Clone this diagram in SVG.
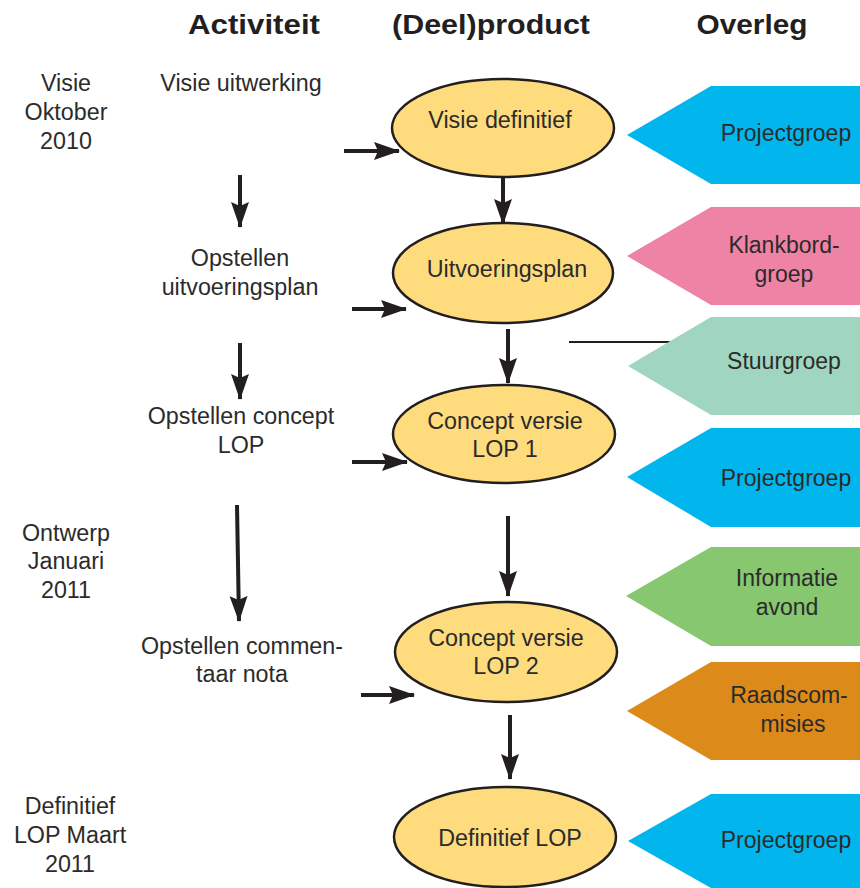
<svg xmlns="http://www.w3.org/2000/svg" width="860" height="888" viewBox="0 0 860 888">
<defs>
<style>
.hd{font-family:"Liberation Sans",Arial,sans-serif;font-weight:bold;font-size:27px;fill:#231f20;text-anchor:middle}
.t{font-family:"Liberation Sans",Arial,sans-serif;font-size:23.3px;fill:#2b2b2b;text-anchor:middle}
.pt{font-family:"Liberation Sans",Arial,sans-serif;font-size:23px;fill:#2b2b2b;text-anchor:middle}
.el{fill:#fedc7e;stroke:#231f20;stroke-width:2.5}
.ar{stroke:#231f20;stroke-width:4;fill:none;marker-end:url(#ah)}
.ln{stroke:#231f20;stroke-width:2;fill:none}
</style>
<marker id="ah" markerUnits="userSpaceOnUse" markerWidth="27" markerHeight="20" refX="25" refY="9" orient="auto" viewBox="0 0 27 18">
<path d="M0,0 L26,9 L0,18 L4,9 Z" fill="#231f20"/>
</marker>
</defs>
<rect width="860" height="888" fill="#ffffff"/>

<g id="headers">
<text class="hd" x="254" y="34" textLength="132" lengthAdjust="spacingAndGlyphs">Activiteit</text>
<text class="hd" x="491" y="34" textLength="198" lengthAdjust="spacingAndGlyphs">(Deel)product</text>
<text class="hd" x="752" y="34" textLength="111" lengthAdjust="spacingAndGlyphs">Overleg</text>
</g>

<g id="phases">
<text class="t" x="66" y="91">Visie</text>
<text class="t" x="66" y="120">Oktober</text>
<text class="t" x="66" y="149">2010</text>
<text class="t" x="66" y="541">Ontwerp</text>
<text class="t" x="66" y="569">Januari</text>
<text class="t" x="66" y="598">2011</text>
<text class="t" x="70" y="814">Definitief</text>
<text class="t" x="70" y="843">LOP Maart</text>
<text class="t" x="70" y="872">2011</text>
</g>

<g id="activities">
<text class="t" x="241" y="91">Visie uitwerking</text>
<text class="t" x="240" y="266">Opstellen</text>
<text class="t" x="240" y="295">uitvoeringsplan</text>
<text class="t" x="241" y="424">Opstellen concept</text>
<text class="t" x="241" y="453">LOP</text>
<text class="t" x="242" y="654">Opstellen commen-</text>
<text class="t" x="242" y="682">taar nota</text>
</g>

<g id="connectors">
<line class="ln" x1="569" y1="342" x2="672" y2="342"/>
<path class="ar" d="M240,175 L240,227"/>
<path class="ar" d="M240,343 L240,399"/>
<path class="ar" d="M237,505 L239,621"/>
<path class="ar" d="M344,151 L399,151"/>
<path class="ar" d="M352,309 L406,309"/>
<path class="ar" d="M352,462 L407,462"/>
<path class="ar" d="M361,695 L414,695"/>
<path class="ar" d="M503,170 L503,224"/>
<path class="ar" d="M508,329 L508,383"/>
<path class="ar" d="M508,516 L508,596"/>
<path class="ar" d="M510,715 L510,779"/>
</g>

<g id="n-visie-definitief">
<ellipse class="el" cx="503" cy="128" rx="111" ry="49"/>
<text class="t" x="500" y="128">Visie definitief</text>
</g>
<g id="n-uitvoeringsplan">
<ellipse class="el" cx="503" cy="273" rx="110" ry="50"/>
<text class="t" x="507" y="277">Uitvoeringsplan</text>
</g>
<g id="n-concept1">
<ellipse class="el" cx="504" cy="434" rx="111" ry="49"/>
<text class="t" x="505" y="429">Concept versie</text>
<text class="t" x="505" y="457">LOP 1</text>
</g>
<g id="n-concept2">
<ellipse class="el" cx="506" cy="652" rx="111" ry="50"/>
<text class="t" x="506" y="646">Concept versie</text>
<text class="t" x="506" y="674">LOP 2</text>
</g>
<g id="n-definitief">
<ellipse class="el" cx="505" cy="837" rx="111" ry="50"/>
<text class="t" x="510" y="846">Definitief LOP</text>
</g>

<g id="o-projectgroep1">
<polygon points="627,135 711,86 860,86 860,184 711,184" fill="#00b6ec"/>
<text class="pt" x="786" y="141">Projectgroep</text>
</g>
<g id="o-klankbordgroep">
<polygon points="627,256 711,207 860,207 860,305 711,305" fill="#ef83a6"/>
<text class="pt" x="784" y="253">Klankbord-</text>
<text class="pt" x="784" y="282">groep</text>
</g>
<g id="o-stuurgroep">
<polygon points="628,366 711,317 860,317 860,415 711,415" fill="#a0d5bf"/>
<text class="pt" x="784" y="369">Stuurgroep</text>
</g>
<g id="o-projectgroep2">
<polygon points="627,477 711,428 860,428 860,527 711,527" fill="#00b6ec"/>
<text class="pt" x="786" y="486">Projectgroep</text>
</g>
<g id="o-informatieavond">
<polygon points="626,596 711,547 860,547 860,646 711,646" fill="#86c770"/>
<text class="pt" x="787" y="586">Informatie</text>
<text class="pt" x="787" y="615">avond</text>
</g>
<g id="o-raadscommisies">
<polygon points="627,711 711,662 860,662 860,760 711,760" fill="#dc8a1a"/>
<text class="pt" x="789" y="703">Raadscom-</text>
<text class="pt" x="793" y="732">misies</text>
</g>
<g id="o-projectgroep3">
<polygon points="628,841 711,794 860,794 860,888 711,888" fill="#00b6ec"/>
<text class="pt" x="786" y="848">Projectgroep</text>
</g>
</svg>
